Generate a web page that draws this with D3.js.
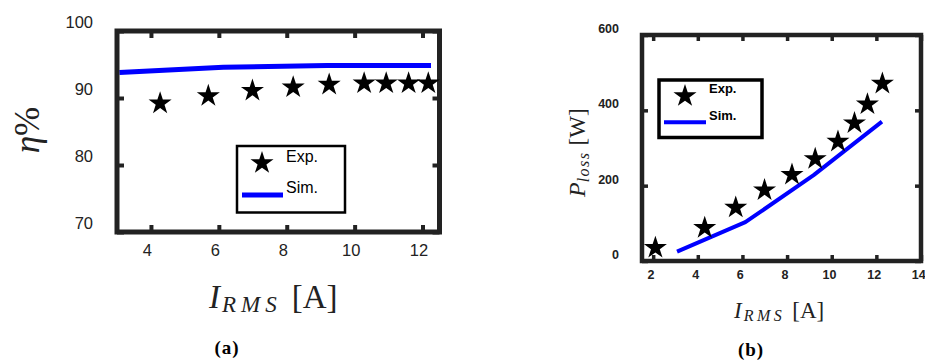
<!DOCTYPE html>
<html>
<head>
<meta charset="utf-8">
<script src="https://cdn.jsdelivr.net/npm/d3@7"></script>
<style>
  body { margin: 0; background: #fff; }
  svg { display: block; }
</style>
</head>
<body>
<div class="chart"></div>
<script>
// panel (a): efficiency
const aSimI = [3.07, 6.13, 9.19, 12.25];
const aSimEta = [93.8, 94.6, 94.85, 94.85];
const aExpI = [4.27, 5.69, 6.99, 8.19, 9.25, 10.28, 10.93, 11.59, 12.17];
const aExpEta = [89.2, 90.3, 91.1, 91.6, 92.0, 92.2, 92.2, 92.2, 92.2];
const aXTicks = [4, 6, 8, 10, 12];
const aYTicks = [70, 80, 90, 100];

// panel (b): losses
const bExpI = [2.1, 4.31, 5.7, 6.99, 8.22, 9.26, 10.28, 11.02, 11.6, 12.27];
const bExpP = [35, 88, 142, 188, 229, 271, 317, 366, 416, 471];
const bSimI = [3.07, 6.13, 9.19, 12.25];
const bSimP = [25, 103, 228, 370];
const bXTicks = [2, 4, 6, 8, 10, 12, 14];
const bYTicks = [0, 200, 400, 600];

const legendLabels = ["Exp.", "Sim."];

var svg = d3.select(".chart")
  .append("svg")
    .attr("width", 925)
    .attr("height", 361);

const dark = "#222";
const star = d3.symbol().type(d3.symbolStar).size(165);

function panel(opt) {
  let x = d3.scaleLinear().domain(opt.xDomain).range(opt.xRange);
  let y = d3.scaleLinear().domain(opt.yDomain).range(opt.yRange);
  let g = svg.append("g");

  // tick labels via d3 axes (ticks drawn inward)
  let bottom = g.append("g")
      .attr("transform", `translate(0,${opt.yRange[0]})`)
      .call(d3.axisBottom(x).tickValues(opt.xTicks).tickSizeInner(-opt.tick).tickSizeOuter(0).tickPadding(opt.xPad));
  let top = g.append("g")
      .attr("transform", `translate(0,${opt.yRange[1]})`)
      .call(d3.axisTop(x).tickValues(opt.xTicks).tickSizeInner(-opt.tick).tickSizeOuter(0).tickFormat(""));
  let left = g.append("g")
      .attr("transform", `translate(${opt.xRange[0]},0)`)
      .call(d3.axisLeft(y).tickValues(opt.yTicks).tickSizeInner(-opt.tick).tickSizeOuter(0).tickPadding(opt.yPad));
  let right = g.append("g")
      .attr("transform", `translate(${opt.xRange[1]},0)`)
      .call(d3.axisRight(y).tickValues(opt.yTicks).tickSizeInner(-opt.tick).tickSizeOuter(0).tickFormat(""));

  [bottom, top, left, right].forEach(a => {
    a.select(".domain").remove();
    a.selectAll("line").attr("stroke", dark).attr("stroke-width", opt.frameW - 1);
  });
  [bottom, left].forEach(a => {
    a.selectAll("text")
      .attr("fill", dark)
      .style("font-family", "'Liberation Sans', Arial, sans-serif")
      .style("font-size", opt.tickFont + "px")
      .style("font-weight", opt.tickWeight);
  });
  bottom.selectAll("text").attr("x", opt.xLabelShift);
  left.selectAll("text").attr("y", opt.yLabelShift);

  // simulated line
  g.append("path")
    .datum(opt.simX.map((d, i) => [d, opt.simY[i]]))
    .attr("fill", "none")
    .attr("stroke", "#0000ff")
    .attr("stroke-width", opt.lineW)
    .attr("stroke-linejoin", "round")
    .attr("d", d3.line().x(d => x(d[0])).y(d => y(d[1])));

  // frame
  g.append("rect")
    .attr("x", opt.xRange[0])
    .attr("y", opt.yRange[1])
    .attr("width", opt.xRange[1] - opt.xRange[0])
    .attr("height", opt.yRange[0] - opt.yRange[1])
    .attr("fill", "none")
    .attr("stroke", dark)
    .attr("stroke-width", opt.frameW);

  // experimental stars
  g.selectAll(".star")
    .data(opt.expX.map((d, i) => [d, opt.expY[i]]))
    .enter()
    .append("path")
      .attr("class", "star")
      .attr("transform", d => `translate(${x(d[0])},${y(d[1])})`)
      .attr("d", star)
      .attr("fill", "#000");

  // legend
  let L = opt.legend;
  g.append("rect")
    .attr("x", L.x).attr("y", L.y)
    .attr("width", L.w).attr("height", L.h)
    .attr("fill", "#fff")
    .attr("stroke", "#000")
    .attr("stroke-width", L.stroke);
  g.append("path")
    .attr("transform", `translate(${L.starX},${L.starY})`)
    .attr("d", star)
    .attr("fill", "#000");
  g.append("line")
    .attr("x1", L.lineX1).attr("x2", L.lineX2)
    .attr("y1", L.lineY).attr("y2", L.lineY)
    .attr("stroke", "#0000ff")
    .attr("stroke-width", opt.lineW);
  g.selectAll(".legtext")
    .data(legendLabels)
    .enter()
    .append("text")
      .attr("x", L.textX)
      .attr("y", (d, i) => L.textY[i])
      .text(d => d)
      .style("font-family", "'Liberation Sans', Arial, sans-serif")
      .style("font-size", L.font + "px")
      .style("font-weight", opt.tickWeight)
      .attr("fill", "#000");

  return g;
}

panel({
  xDomain: [3, 12.5], xRange: [117, 439.5],
  yDomain: [70, 100], yRange: [232, 31],
  xTicks: aXTicks, yTicks: aYTicks,
  tick: 7, frameW: 5, lineW: 5,
  xPad: 12.6, yPad: 24, tickFont: 16.5, tickWeight: "normal",
  xLabelShift: -4, yLabelShift: -8.5,
  simX: aSimI, simY: aSimEta, expX: aExpI, expY: aExpEta,
  legend: { x: 237, y: 146, w: 108, h: 66.5, stroke: 2.5,
            starX: 262, starY: 163, lineX1: 242, lineX2: 283, lineY: 195,
            textX: 286, textY: [161.5, 192.5], font: 16 }
});

panel({
  xDomain: [1.5, 14], xRange: [642, 921],
  yDomain: [0, 600], yRange: [261, 35],
  xTicks: bXTicks, yTicks: bYTicks,
  tick: 6, frameW: 4.5, lineW: 4,
  xPad: 9.6, yPad: 23, tickFont: 12.5, tickWeight: "bold",
  xLabelShift: -2.7, yLabelShift: -6.5,
  simX: bSimI, simY: bSimP, expX: bExpI, expY: bExpP,
  legend: { x: 659, y: 80, w: 103, h: 57.5, stroke: 3.5,
            starX: 685, starY: 96, lineX1: 664, lineX2: 706, lineY: 122.3,
            textX: 709, textY: [93, 120], font: 13 }
});

// axis titles
const serif = "'Liberation Serif', 'Times New Roman', serif";

svg.append("text")
  .attr("transform", "translate(39,130) rotate(-90)")
  .attr("text-anchor", "middle")
  .style("font-family", serif)
  .style("font-size", "35px")
  .attr("fill", dark)
  .call(t => {
    t.append("tspan").style("font-style", "italic").text("η");
    t.append("tspan").text("%");
  });

function currentLabel(x0, y0, big, small, ls, gap, drop) {
  let t = svg.append("text")
    .attr("x", x0).attr("y", y0)
    .style("font-family", serif)
    .attr("fill", dark);
  t.append("tspan").style("font-style", "italic").style("font-size", big + "px").text("I");
  t.append("tspan").style("font-style", "italic").style("font-size", small + "px")
    .style("letter-spacing", ls + "px").attr("dx", 2).attr("dy", drop).text("RMS");
  t.append("tspan").style("font-size", big + "px").attr("dx", gap).attr("dy", -drop).text("[A]");
}
currentLabel(209, 308, 33, 23, 5, 10, 4);
currentLabel(734, 318, 23, 16, 3.5, 7, 3);

svg.append("text")
  .attr("transform", "translate(585,197) rotate(-90)")
  .style("font-family", serif)
  .attr("fill", dark)
  .call(t => {
    t.append("tspan").style("font-style", "italic").style("font-size", "24px").text("P");
    t.append("tspan").style("font-style", "italic").style("font-size", "16px")
      .style("letter-spacing", "1.5px").attr("dy", 4).text("loss");
    t.append("tspan").style("font-size", "23px").attr("dx", 6).attr("dy", -4).text("[W]");
  });

// panel captions
svg.selectAll(".caption")
  .data([["(a)", 227, 353.5], ["(b)", 751, 355.5]])
  .enter()
  .append("text")
    .attr("x", d => d[1])
    .attr("y", d => d[2])
    .attr("text-anchor", "middle")
    .style("font-family", serif)
    .style("font-weight", "bold")
    .style("font-size", "19px")
    .style("letter-spacing", "1px")
    .attr("fill", "#000")
    .text(d => d[0]);
</script>
</body>
</html>
